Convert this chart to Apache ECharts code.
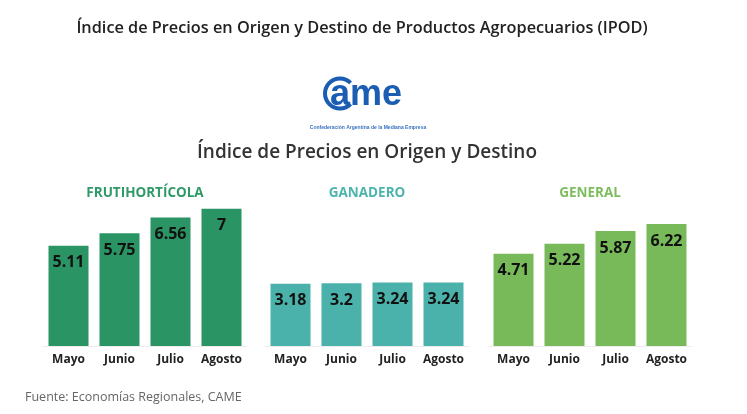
<!DOCTYPE html>
<html>
<head>
<meta charset="utf-8">
<script src="https://cdn.jsdelivr.net/npm/echarts@6/dist/echarts.min.js"></script>
<style>html,body{margin:0;padding:0;background:#fff}#c{width:747px;height:414px}</style>
</head>
<body>
<div id="c"></div>
<script>
const months = ['Mayo', 'Junio', 'Julio', 'Agosto'];
const frutihorticola = [5.11, 5.75, 6.56, 7];
const ganadero = [3.18, 3.2, 3.24, 3.24];
const general = [4.71, 5.22, 5.87, 6.22];
const panelTitles = ['FRUTIHORTÍCOLA', 'GANADERO', 'GENERAL'];
const mainTitle = 'Índice de Precios en Origen y Destino de Productos Agropecuarios (IPOD)';
const subTitle = 'Índice de Precios en Origen y Destino';
const logoSub = 'Confederación Argentina de la Mediana Empresa';
const source = 'Fuente: Economías Regionales, CAME';

const seriesData = [frutihorticola, ganadero, general];
const barColors = ['#2b9464', '#4bb1ab', '#78ba5a'];
const titleColors = ['#2f9a68', '#4db5ae', '#7dbd5e'];
const gridLefts = [43, 265, 488];
const gridW = 204;
const FONT = '"Open Sans", sans-serif';

const chart = echarts.init(document.getElementById('c'), null, {renderer: 'canvas'});

const grids = gridLefts.map(l => ({left: l, width: gridW, top: 150, height: 196, containLabel: false}));
const xAxes = gridLefts.map((l, i) => ({
  type: 'category', gridIndex: i, data: months,
  axisLine: {show: true, lineStyle: {color: '#ececec', width: 1}},
  axisTick: {show: false},
  axisLabel: {interval: 0, margin: 8, color: '#222', fontFamily: FONT, fontWeight: 'bold', fontSize: 12}
}));
const yAxes = gridLefts.map((l, i) => ({
  type: 'value', gridIndex: i, min: 0, max: 10, show: false, splitLine: {show: false}
}));
const series = seriesData.map((d, i) => ({
  type: 'bar', xAxisIndex: i, yAxisIndex: i, data: d, barWidth: 40,
  itemStyle: {color: barColors[i]},
  label: {show: true, position: 'insideTop', distance: 9, color: '#111',
    fontFamily: FONT, fontWeight: 'bold', fontSize: 16}
}));

const graphics = [
  {type: 'text', x: 362, y: 28, style: {text: mainTitle, textAlign: 'center', textVerticalAlign: 'middle',
    font: '600 16.3px "Open Sans", sans-serif', fill: '#222'}},
  {type: 'text', x: 367, y: 153, style: {text: subTitle, textAlign: 'center', textVerticalAlign: 'middle',
    font: '600 19px "Open Sans", sans-serif', fill: '#333'}},
  {type: 'text', x: 25, y: 397, style: {text: source, textAlign: 'left', textVerticalAlign: 'middle',
    font: '12.5px "Open Sans", sans-serif', fill: '#666'}},
  // logo
  {type: 'arc', shape: {cx: 340, cy: 93.5, r: 15, startAngle: Math.PI * 0.25, endAngle: Math.PI * 1.75, clockwise: true},
    style: {stroke: '#1a5db3', lineWidth: 4, fill: null}},
  {type: 'text', x: 330, y: 95, style: {text: 'ame', textAlign: 'left', textVerticalAlign: 'middle',
    font: 'bold 36px "Liberation Sans", Arial, sans-serif', fill: '#1a5db3'}},
  {type: 'text', x: 368, y: 128, style: {text: logoSub, textAlign: 'center', textVerticalAlign: 'middle',
    font: 'bold 5px "Liberation Sans", Arial, sans-serif', fill: '#3a72c0'}}
];
panelTitles.forEach((t, i) => {
  graphics.push({type: 'text', x: gridLefts[i] + gridW / 2, y: 193, style: {text: t, textAlign: 'center', textVerticalAlign: 'middle',
    font: 'bold 13.5px "Open Sans", sans-serif', fill: titleColors[i]}});
});

chart.setOption({
  backgroundColor: '#fff',
  animation: false,
  grid: grids,
  xAxis: xAxes,
  yAxis: yAxes,
  series: series,
  graphic: graphics
});
</script>
</body>
</html>
